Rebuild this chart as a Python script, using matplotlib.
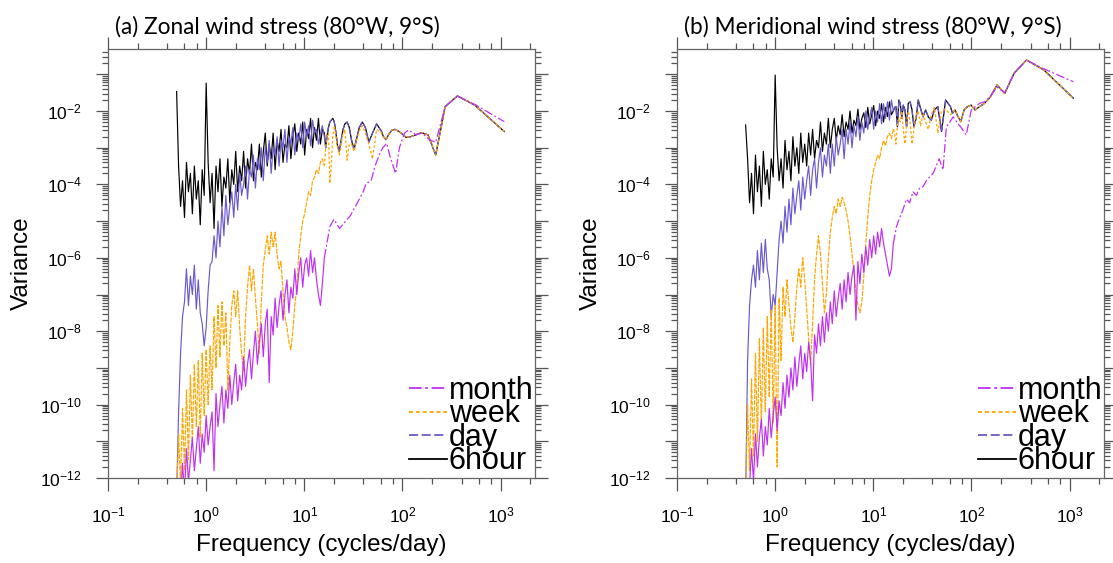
import numpy as np
import matplotlib
matplotlib.use("Agg")
import matplotlib.pyplot as plt
import matplotlib.ticker as ptick
from matplotlib.lines import Line2D

plt.rcParams['font.family'] = ['Liberation Sans', 'DejaVu Sans']
plt.rcParams['mathtext.default'] = 'regular'

# ---- data (log10 variance) ----
# dense low-frequency part: 76 values on a log grid from 0.5 to 16 cycles/day
DENSE_F0, DENSE_F1 = 0.5, 16.0

six_a = [-1.47, -3.5, -4.6, -3.9, -4.9, -3.4, -4.2, -3.7, -4.8, -3.5,
         -4.4, -3.9, -5.1, -3.6, -4.3, -1.24, -3.4, -4.5, -3.7, -5.2,
         -3.5, -4.2, -3.3, -4.6, -3.8, -4.1, -3.3, -4.5, -3.6, -4.0,
         -3.1, -4.2, -3.5, -3.9, -3.1, -4.1, -3.3, -3.7, -2.9, -3.9,
         -3.4, -3.6, -2.9, -3.8, -3.1, -2.6, -3.5, -2.9, -3.3, -2.6,
         -3.6, -2.8, -3.1, -2.5, -3.4, -2.9, -3.0, -2.4, -3.3, -2.7,
         -2.35, -3.1, -2.6, -2.9, -2.3, -3.2, -2.5, -2.75, -2.2, -3.0,
         -2.45, -2.8, -2.2, -2.9, -2.5, -2.6]
day_a = [-12.5, -10.2, -8.6, -7.6, -7.2, -6.3, -7.3, -6.5, -7.0, -6.2,
         -7.4, -6.6, -7.5, -7.8, -8.4, -7.9, -6.9, -6.2, -6.1, -5.4,
         -6.0, -5.0, -5.7, -4.6, -5.4, -4.3, -5.1, -4.6, -4.2, -4.9,
         -4.0, -4.7, -3.7, -4.3, -4.0, -3.5, -4.4, -3.6, -3.8, -3.2,
         -4.1, -3.3, -3.6, -3.0, -3.9, -3.0, -3.4, -2.8, -3.7, -3.0,
         -3.2, -2.7, -3.5, -2.8, -3.0, -2.5, -3.4, -2.7, -2.9, -2.45,
         -3.2, -2.6, -2.8, -2.35, -3.0, -2.3, -2.7, -2.4, -2.95, -2.25,
         -2.6, -2.5, -2.9, -2.6, -2.4, -2.7]
week_a = [-12.5, -10.8, -12.2, -10.1, -11.8, -9.6, -11.5, -9.2, -11.0, -8.9,
          -10.6, -8.8, -10.9, -8.6, -10.3, -8.5, -10.0, -8.4, -9.6, -7.6,
          -9.0, -7.3, -8.7, -7.2, -8.4, -7.5, -9.6, -8.3, -7.3, -6.9,
          -7.6, -6.9, -7.9, -8.6, -9.1, -7.6, -6.8, -6.2, -6.9, -6.3,
          -7.1, -7.8, -8.6, -7.2, -6.2, -5.8, -5.4, -5.9, -5.3, -5.7,
          -5.3, -5.9, -6.3, -6.1, -6.9, -7.6, -7.9, -8.3, -8.5, -8.0,
          -7.3, -6.8, -5.9, -5.4, -5.0, -4.8, -4.5, -4.2, -4.3, -3.9,
          -3.8, -3.6, -3.7, -3.4, -3.3, -3.5]
month_a = [-13.5, -13.0, -12.6, -11.6, -12.4, -11.2, -12.1, -11.5, -10.9, -11.8,
           -11.2, -10.6, -11.6, -10.8, -11.3, -10.3, -11.1, -10.6, -10.2, -11.8,
           -9.7, -10.6, -10.0, -9.5, -10.5, -9.6, -10.1, -9.2, -10.0, -9.4,
           -8.9, -9.9, -9.2, -9.6, -8.7, -9.5, -8.9, -8.5, -9.3, -8.6,
           -8.0, -8.9, -8.3, -7.8, -8.7, -7.8, -7.4, -9.4, -7.6, -8.1,
           -7.1, -7.9, -7.3, -6.9, -7.7, -7.0, -6.6, -7.5, -6.8, -7.1,
           -6.3, -7.0, -6.4, -6.0, -6.8, -6.2, -6.0, -6.5, -5.8, -6.4,
           -6.0, -6.6, -7.0, -7.3, -6.7, -6.0]

six_b = [-2.38, -3.3, -4.5, -3.7, -4.8, -3.2, -4.2, -3.5, -4.6, -3.1,
         -4.0, -3.6, -4.4, -3.3, -3.8, -1.02, -3.0, -3.9, -3.3, -4.1,
         -2.8, -3.6, -3.1, -3.9, -2.7, -3.5, -3.0, -3.7, -2.6, -3.4,
         -2.9, -3.5, -2.6, -3.2, -2.5, -3.3, -2.8, -3.0, -2.3, -3.1,
         -2.6, -2.9, -2.2, -3.0, -2.5, -2.2, -2.8, -2.4, -2.65, -2.1,
         -2.7, -2.3, -2.5, -2.0, -2.6, -2.25, -2.4, -1.95, -2.5, -2.2,
         -2.05, -2.45, -1.9, -2.35, -2.1, -1.85, -2.4, -2.0, -2.2, -1.8,
         -2.3, -1.9, -2.15, -1.75, -2.1, -2.0]
day_b = [-12.5, -8.8, -7.3, -6.6, -6.2, -6.8, -5.8, -6.6, -5.6, -6.4,
         -5.5, -6.3, -6.6, -7.6, -7.0, -7.3, -6.4, -5.5, -5.0, -5.6,
         -4.6, -5.3, -4.4, -5.1, -4.1, -4.8, -4.3, -3.9, -4.7, -3.8,
         -4.4, -3.9, -3.5, -4.3, -3.6, -3.3, -4.1, -3.4, -3.0, -3.8,
         -3.2, -3.5, -2.9, -3.7, -2.9, -3.5, -2.7, -3.2, -2.9, -2.5,
         -3.3, -2.5, -2.9, -2.3, -3.0, -2.4, -2.7, -2.15, -2.8, -2.3,
         -2.6, -2.0, -2.5, -2.15, -1.9, -2.5, -2.0, -2.3, -1.8, -2.35,
         -1.8, -2.2, -1.75, -2.25, -1.7, -2.0]
week_b = [-12.5, -10.0, -11.8, -9.3, -11.4, -8.6, -11.0, -8.2, -10.6, -7.9,
          -10.2, -7.6, -9.8, -7.4, -10.5, -7.3, -11.7, -7.1, -8.8, -6.8,
          -7.6, -6.6, -7.3, -7.9, -8.3, -7.6, -6.8, -6.3, -6.8, -6.0,
          -6.6, -7.4, -8.2, -8.9, -7.8, -6.6, -5.9, -5.4, -5.9, -6.7,
          -7.5, -7.0, -6.0, -5.3, -4.9, -4.6, -4.8, -4.4, -4.6, -4.35,
          -4.5, -4.7, -5.0, -5.4, -5.9, -6.4, -6.9, -7.3, -7.5, -7.2,
          -6.5, -5.6, -4.9, -4.3, -3.9, -3.6, -3.4, -3.2, -3.3, -3.0,
          -2.8, -2.95, -2.7, -2.6, -2.75, -2.5]
month_b = [-13.5, -12.8, -12.2, -11.2, -12.1, -10.8, -11.7, -10.9, -10.4, -11.4,
           -10.6, -11.1, -10.1, -10.9, -10.3, -9.8, -10.7, -9.9, -10.3, -9.4,
           -10.1, -9.2, -9.8, -9.0, -9.6, -8.7, -9.5, -8.9, -8.4, -9.3,
           -8.6, -9.1, -8.3, -8.8, -9.9, -8.1, -8.6, -7.8, -8.4, -7.6,
           -8.3, -7.5, -8.0, -7.2, -7.8, -6.9, -7.6, -7.1, -6.7, -7.4,
           -6.6, -7.2, -6.4, -7.0, -6.5, -6.2, -7.7, -6.1, -6.7, -5.9,
           -6.4, -5.7, -6.2, -5.5, -6.0, -5.4, -5.9, -5.3, -5.7, -5.2,
           -5.6, -5.9, -6.2, -6.5, -6.3, -5.6]

# middle band (cycles/day)
mid_f = [16.5, 17.0, 17.6, 18.2, 18.8, 19.5, 20.2, 21.0, 21.8, 22.7,
         23.7, 24.8, 25.9, 27.3, 28.7, 30.3, 32.1, 34.1, 36.3, 38.9,
         41.9, 45.4, 49.5, 54.5, 61.0]
mid_a = [-3.0, -2.7, -2.45, -2.3, -2.25, -2.2, -2.3, -2.6, -2.95, -3.1,
         -2.8, -2.5, -2.35, -2.3, -2.45, -2.8, -3.05, -2.75, -2.45, -2.3,
         -2.45, -2.85, -2.6, -2.35, -2.55]
week_mid_a = [-3.0, -2.7, -2.6, -3.97, -3.5, -2.7, -2.4, -2.7, -3.0, -3.2,
              -2.9, -2.6, -2.5, -3.34, -2.9, -2.9, -3.1, -2.8, -2.55, -2.4,
              -2.6, -2.9, -3.3, -2.5, -2.6]
mid_b = [-1.9, -1.88, -2.43, -1.70, -1.79, -2.2, -1.84, -1.97, -2.43, -1.79,
         -1.75, -1.97, -2.43, -2.2, -1.70, -1.93, -2.16, -1.97, -2.16, -2.25,
         -1.97, -1.88, -2.56, -1.7, -1.88]
week_mid_b = [-2.6, -2.9, -2.4, -2.2, -2.3, -2.0, -2.5, -2.9, -2.4, -2.0,
              -2.3, -2.9, -2.5, -2.1, -2.0, -2.4, -2.1, -2.3, -2.5, -2.1,
              -1.9, -2.6, -2.0, -1.95, -2.1]

# high-frequency tail shared by 6hour / day / week
tail_f = [64, 68, 73, 78, 84, 91, 99, 109, 121, 136, 156, 182, 218, 272, 363, 545, 1090]
tail_a = [-2.7, -2.78, -2.62, -2.52, -2.5, -2.55, -2.62, -2.72, -2.7, -2.65,
          -2.59, -2.65, -3.2, -1.88, -1.59, -1.84, -2.56]
tail_b = [-2.06, -1.97, -2.16, -2.29, -1.97, -1.88, -1.84, -1.97, -1.88, -1.79,
          -1.61, -1.29, -1.52, -0.97, -0.61, -0.88, -1.65]

# month beyond the dense part
month_mid_fa = [18.2, 20.0, 22.9, 26.9, 29.5, 31.6, 35.5, 39.8, 42.7, 47.9,
                52.5, 58.9, 63.0, 69.0, 74.0, 85.0, 93.0, 105, 115, 138,
                158, 190, 218, 272, 363, 545, 1090]
month_mid_a = [-5.15, -4.95, -5.2, -4.97, -4.85, -4.7, -4.45, -4.2, -3.97, -3.9,
               -3.5, -3.15, -3.0, -2.88, -3.2, -3.7, -3.0, -2.6, -2.52, -2.65,
               -2.6, -2.79, -2.85, -1.88, -1.59, -1.82, -2.29]
month_mid_fb = [17.2, 18.6, 20.0, 21.7, 23.4, 25.4, 27.5, 29.5, 32.1, 34.7,
                37.2, 40.6, 43.7, 46.8, 51.3, 55.5, 60.3, 64.9, 70.8, 75.9,
                88.5, 99.5, 121, 136, 156, 182, 218, 272, 363, 545, 1090]
month_mid_b = [-5.15, -4.9, -4.7, -4.4, -4.5, -4.2, -4.3, -4.1, -4.06, -3.9,
               -3.8, -3.7, -3.5, -3.3, -3.6, -2.43, -2.3, -2.16, -2.3, -2.4,
               -2.65, -1.97, -1.79, -1.75, -1.6, -1.35, -1.5, -0.97, -0.61, -0.85, -1.2]

labels = ["month", "week", "day", "6hour"]
colors = {"month": "#c030f0", "week": "#ffa500", "day": "#6a5acd", "6hour": "black"}
styles = {"month": (0, (7, 2, 1.5, 2)), "week": (0, (2.2, 1.6)),
          "day": (0, (5, 2)), "6hour": "-"}
# 密な部分は破線がほぼ潰れて見えるので細かいパターンにする
dense_styles = {"month": "-", "week": (0, (4, 1)), "day": "-", "6hour": "-"}


def build(dense, parts):
    fd = np.geomspace(DENSE_F0, DENSE_F1, len(dense))
    vd = 10.0 ** np.array(dense)
    # 残りの部分は密な部分の最後の点からつなぐ
    fr = [fd[-1:]]
    vr = [vd[-1:]]
    for pf, pv in parts:
        fr.append(np.array(pf, dtype=float))
        vr.append(10.0 ** np.array(pv))
    return fd, vd, np.concatenate(fr), np.concatenate(vr)


def exp_fmt(v, pos):
    e = int(round(np.log10(v)))
    return r"$10^{%d}$" % e


def y_fmt(v, pos):
    e = int(round(np.log10(v)))
    return r"$10^{%d}$" % e if e % 2 == 0 else ""


def make_panel(ax, series, title):
    # 描画順: 6hour -> day -> week -> month
    for name in ["6hour", "day", "week", "month"]:
        fd, vd, fr, vr = series[name]
        ax.plot(fd, vd, color=colors[name], ls=dense_styles[name], lw=0.85)
        ax.plot(fr, vr, color=colors[name], ls=styles[name], lw=0.9)

    ax.set_xscale("log")
    ax.set_yscale("log")
    ax.set_xlim(0.1, 10 ** 3.35)
    ax.set_ylim(1e-12, 10 ** -0.31)

    ax.xaxis.set_major_locator(ptick.FixedLocator([0.1, 1, 10, 100, 1000]))
    ax.xaxis.set_minor_locator(ptick.FixedLocator(
        [m * 10.0 ** e for e in range(-1, 4) for m in (2, 4, 6, 8)]))
    ax.yaxis.set_major_locator(ptick.FixedLocator(10.0 ** np.arange(-12, 0)))
    ax.yaxis.set_minor_locator(ptick.LogLocator(base=10, subs=np.arange(2, 10), numticks=100))
    ax.xaxis.set_major_formatter(ptick.FuncFormatter(exp_fmt))
    ax.yaxis.set_major_formatter(ptick.FuncFormatter(y_fmt))
    ax.xaxis.set_minor_formatter(ptick.NullFormatter())
    ax.yaxis.set_minor_formatter(ptick.NullFormatter())

    ax.tick_params(which="both", direction="out", top=True, right=True,
                   color="#555555", width=0.9)
    ax.tick_params(which="major", length=9)
    ax.tick_params(which="minor", length=4.5)
    ax.tick_params(axis="x", which="major", labelsize=12.5, pad=11)
    ax.tick_params(axis="y", which="major", labelsize=12.5, pad=10)
    for sp in ax.spines.values():
        sp.set_color("#666666")
        sp.set_linewidth(0.9)

    ax.set_xlabel("Frequency (cycles/day)", fontsize=17.5, labelpad=6)
    ax.set_ylabel("Variance", fontsize=17.5, labelpad=5)
    ax.text(0.016, 1.037, title, transform=ax.transAxes, fontsize=16.3,
            family=["Lato", "DejaVu Sans"], ha="left", va="baseline")

    handles = [Line2D([], [], color=colors[n], ls=styles[n], lw=1.3) for n in labels]
    ax.legend(handles, labels, loc="lower right", frameon=False, fontsize=22,
              handlelength=1.25, handletextpad=0.05, labelspacing=-0.21,
              borderaxespad=0.0, borderpad=0.05)


def main():
    series_a = {
        "6hour": build(six_a, [(mid_f, mid_a), (tail_f, tail_a)]),
        "day": build(day_a, [(mid_f, mid_a), (tail_f, tail_a)]),
        "week": build(week_a, [(mid_f, week_mid_a), (tail_f, tail_a)]),
        "month": build(month_a, [(month_mid_fa, month_mid_a)]),
    }
    series_b = {
        "6hour": build(six_b, [(mid_f, mid_b), (tail_f, tail_b)]),
        "day": build(day_b, [(mid_f, mid_b), (tail_f, tail_b)]),
        "week": build(week_b, [(mid_f, week_mid_b), (tail_f, tail_b)]),
        "month": build(month_b, [(month_mid_fb, month_mid_b)]),
    }

    fig = plt.figure(figsize=(11.13, 5.63), dpi=100)
    ax1 = fig.add_axes([0.09704, 0.15098, 0.38365, 0.76199])
    ax2 = fig.add_axes([0.60827, 0.15098, 0.38365, 0.76199])
    make_panel(ax1, series_a, "(a) Zonal wind stress (80°W, 9°S)")
    make_panel(ax2, series_b, "(b) Meridional wind stress (80°W, 9°S)")
    fig.savefig("out.png", dpi=100)
    plt.close(fig)


if __name__ == "__main__":
    main()
